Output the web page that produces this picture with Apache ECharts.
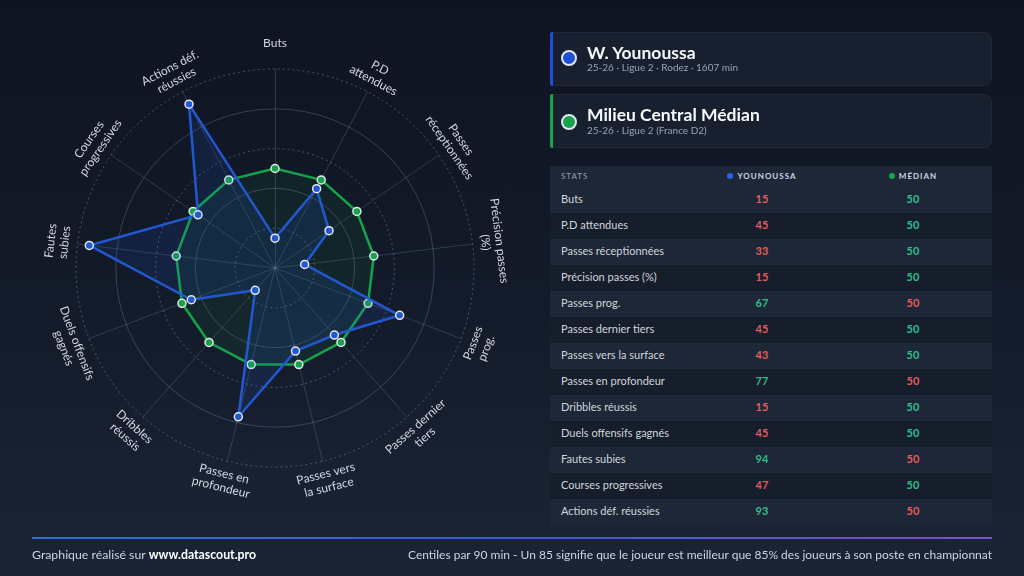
<!DOCTYPE html>
<html><head><meta charset="utf-8">
<script src="https://cdn.jsdelivr.net/npm/echarts@6/dist/echarts.min.js"></script>
<style>
html,body{margin:0;padding:0;width:1024px;height:576px;overflow:hidden;}
body{background:linear-gradient(180deg,#0e1422 0%,#131a29 50%,#1b2436 100%);font-family:Lato,'Open Sans',sans-serif;color:#e2e8f0;position:relative;}
#chart{position:absolute;left:0;top:0;width:1024px;height:576px;}
.card{position:absolute;left:550px;width:442px;height:54px;background:#182030;border-radius:3px 8px 8px 3px;box-shadow:inset 0 0 0 1px rgba(255,255,255,0.04);}
.card .bar{position:absolute;left:0;top:0;bottom:0;width:3px;border-radius:2px 0 0 2px;}
.card .dot{position:absolute;left:11px;width:16px;height:16px;box-sizing:border-box;border:2px solid #e2e8f0;border-radius:50%;}
.card .t{position:absolute;left:37px;font-size:17.5px;line-height:20px;font-weight:700;color:#f8fafc;white-space:nowrap;}
.card .s{position:absolute;left:37px;font-size:10px;line-height:12px;color:#94a3b8;white-space:nowrap;}
#tbl{position:absolute;left:550px;top:166px;width:442px;border-collapse:collapse;table-layout:fixed;}
#tbl td,#tbl th{padding:0;white-space:nowrap;}
#tbl thead tr{height:21px;background:#1e2737;}
#tbl th{height:21px;line-height:21px;font-size:8px;letter-spacing:1px;color:#94a3b8;font-weight:400;text-align:center;}
#tbl th.l{text-align:left;padding-left:11px;}
#tbl th b{color:#cbd5e1;font-weight:700;}
#tbl th i{display:inline-block;width:6px;height:6px;border-radius:50%;margin-right:4px;vertical-align:0px;}
#tbl tbody tr{height:26px;}
#tbl tbody tr:nth-child(odd){background:#1e2737;}
#tbl tbody tr:nth-child(even){background:#161d2b;}
#tbl td{height:26px;line-height:24px;padding-bottom:2px;box-sizing:border-box;font-size:11px;color:#d1d5db;text-align:center;font-weight:700;}
#tbl td.l{text-align:left;padding-left:11px;font-weight:400;}
#foot{position:absolute;left:32px;top:537px;width:960px;height:2px;background:linear-gradient(90deg,#2f6fe0,#3b5bdb 50%,#7c4ddb);}
.ft{position:absolute;top:548px;font-size:12px;line-height:14px;color:#cbd5e1;white-space:nowrap;}
</style>
</head><body>
<div id="chart"></div>
<div class="card" style="top:32px;"><div class="bar" style="background:#1d4ed8"></div><div class="dot" style="top:18px;background:#1d4ed8"></div><div class="t" style="top:11px">W. Younoussa</div><div class="s" style="top:29px">25-26 · Ligue 2 · Rodez · 1607 min</div></div>
<div class="card" style="top:94px;"><div class="bar" style="background:#16a34a"></div><div class="dot" style="top:20px;background:#16a34a"></div><div class="t" style="top:11px">Milieu Central Médian</div><div class="s" style="top:30px">25-26 · Ligue 2 (France D2)</div></div>
<table id="tbl"><colgroup><col style="width:140px"><col style="width:144px"><col style="width:158px"></colgroup>
<thead><tr><th class="l">STATS</th><th><i style="background:#2563eb"></i><b>YOUNOUSSA</b></th><th><i style="background:#16a34a"></i><b>MÉDIAN</b></th></tr></thead>
<tbody id="tb"></tbody></table>
<div id="foot"></div>
<div class="ft" style="left:32px;font-size:12.3px;">Graphique réalisé sur <b style="color:#fff;font-weight:700">www.datascout.pro</b></div>
<div class="ft" style="right:32px;">Centiles par 90 min - Un 85 signifie que le joueur est meilleur que 85% des joueurs à son poste en championnat</div>
<script>
const categories = ['Buts','P.D attendues','Passes réceptionnées','Précision passes (%)','Passes prog.','Passes dernier tiers','Passes vers la surface','Passes en profondeur','Dribbles réussis','Duels offensifs gagnés','Fautes subies','Courses progressives','Actions déf. réussies'];
const axisLabels = ['Buts','P.D\nattendues','Passes\nréceptionnées','Précision passes\n(%)','Passes\nprog.','Passes dernier\ntiers','Passes vers\nla surface','Passes en\nprofondeur','Dribbles\nréussis','Duels offensifs\ngagnés','Fautes\nsubies','Courses\nprogressives','Actions déf.\nréussies'];
const playerValues = [15,45,33,15,67,45,43,77,15,45,94,47,93];
const medianValues = [50,50,50,50,50,50,50,50,50,50,50,50,50];
const playerName = 'W. Younoussa';
const medianName = 'Milieu Central Médian';

const GREEN = '#2fbf8f', RED = '#e35d5d';
const tb = document.getElementById('tb');
categories.forEach((c,i)=>{
  const a = playerValues[i], b = medianValues[i];
  const tr = document.createElement('tr');
  tr.innerHTML = '<td class="l">'+c+'</td><td style="color:'+(a>b?GREEN:RED)+'">'+a+'</td><td style="color:'+(b>a?GREEN:RED)+'">'+b+'</td>';
  tb.appendChild(tr);
});

const n = categories.length;
// ECharts radar runs counter-clockwise; reference runs clockwise from top
const order = [0].concat(Array.from({length:n-1},(_,k)=>n-1-k));
const indicator = order.map(i=>({name:categories[i], min:0, max:100}));
const CENTER = [275,268], R = 199;
const dashC = 'rgba(148,163,184,0.45)', solidC = 'rgba(148,163,184,0.30)', T = 'rgba(0,0,0,0)';
const radarBase = {center:CENTER, radius:R, startAngle:90, splitNumber:5, shape:'circle', indicator:indicator, axisName:{show:false}, splitArea:{show:false}};

const chart = echarts.init(document.getElementById('chart'), null, {renderer:'canvas'});
chart.setOption({
  animation:false,
  backgroundColor:'transparent',
  radar:[
    Object.assign({}, radarBase, {axisLine:{lineStyle:{color:'rgba(148,163,184,0.25)',width:1}}, splitLine:{lineStyle:{color:[T,dashC,T,dashC,T,dashC],type:[2,3],width:1}}}),
    Object.assign({}, radarBase, {axisLine:{show:false}, splitLine:{lineStyle:{color:[T,T,solidC,T,solidC,T],type:'solid',width:1}}})
  ],
  polar:{center:CENTER, radius:R},
  angleAxis:{type:'value', min:0, max:360, startAngle:90, clockwise:true, show:false, splitLine:{show:false}, axisLine:{show:false}},
  radiusAxis:{type:'value', min:0, max:100, show:false, splitLine:{show:false}},
  series:[
    {type:'radar', radarIndex:0, symbol:'circle', symbolSize:8, z:2,
      data:[{name:medianName, value:order.map(i=>medianValues[i]),
        lineStyle:{color:'#16a34a',width:2.5}, areaStyle:{color:'rgba(22,163,74,0.13)'},
        itemStyle:{color:'#16a34a',borderColor:'#e5e7eb',borderWidth:1.5}}]},
    {type:'radar', radarIndex:0, symbol:'circle', symbolSize:8, z:3,
      data:[{name:playerName, value:order.map(i=>playerValues[i]),
        lineStyle:{color:'#2258d0',width:2.5}, areaStyle:{color:'rgba(37,99,235,0.18)'},
        itemStyle:{color:'#2258d0',borderColor:'#e5e7eb',borderWidth:1.5}}]},
    {type:'custom', coordinateSystem:'polar', silent:true, z:5,
      data: axisLabels.map((t,i)=>[t.indexOf('\n')>=0?110:113, i*360/n]),
      renderItem:function(params, api){
        const idx = params.dataIndex;
        const a = api.value(1);
        const p = api.coord([api.value(0), a]);
        let rot = a;
        if (a>90 && a<270) rot = a-180; else if (a>=270) rot = a-360;
        return {type:'text', x:p[0], y:p[1], rotation:-rot*Math.PI/180,
          style:{text:axisLabels[idx], fill:'#d0d7e2', fontSize:12, fontFamily:'Lato', align:'center', verticalAlign:'middle', lineHeight:14}};
      }}
  ]
});
</script>
</body></html>
